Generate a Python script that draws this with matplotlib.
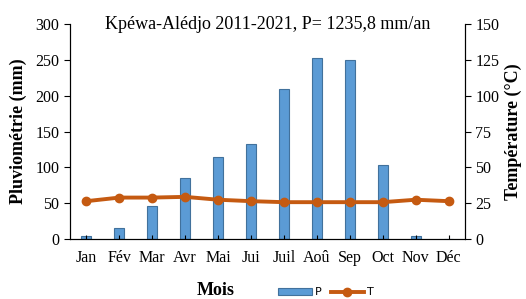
import numpy as np
import matplotlib
matplotlib.use('Agg')
from matplotlib import pyplot as plt

plt.rcParams['font.family'] = ['Liberation Serif', 'DejaVu Serif']

mois = ['Jan', 'Fév', 'Mar', 'Avr', 'Mai', 'Jui', 'Juil', 'Aoû', 'Sep', 'Oct', 'Nov', 'Déc']
pluie = [5, 16, 46, 85, 114, 132, 210, 253, 250, 104, 5, 0]
temp = [26.5, 29, 29, 29.5, 27.5, 26.5, 25.8, 25.8, 25.8, 25.8, 27.5, 26.5]

fig = plt.figure(figsize=(5.26, 2.99), dpi=100)
ax = fig.add_axes([0.133, 0.2, 0.751, 0.72])
x = np.arange(len(mois))
ax.bar(x, pluie, width=0.3, color='#5B9BD5', edgecolor='#41719C', linewidth=0.8, label='P')
ax.set_xlim(-0.5, 11.5)
ax.set_ylim(0, 300)
ax.set_yticks([0, 50, 100, 150, 200, 250, 300])
ax.set_xticks(x)
ax.set_xticklabels(mois)
ax.tick_params(axis='x', direction='in', length=3, labelsize=11.5, pad=8)
ax.tick_params(axis='y', direction='out', length=4, labelsize=11.5)
ax.spines['top'].set_visible(False)
ax.set_ylabel('Pluviométrie (mm)', fontsize=13, fontweight='bold', labelpad=6)
ax.set_xlabel('Mois', fontsize=13, fontweight='bold', labelpad=2)
ax.xaxis.set_label_coords(0.37, -0.2)

ax2 = ax.twinx()
ax2.plot(x, temp, color='#C55A11', linewidth=2.8, marker='o', markersize=6, label='T')
ax2.set_ylim(0, 150)
ax2.set_yticks([0, 25, 50, 75, 100, 125, 150])
ax2.tick_params(axis='y', direction='out', length=4, labelsize=11.5)
ax2.spines['top'].set_visible(False)
ax2.set_ylabel('Température (°C)', fontsize=13, fontweight='bold')

ax.text(0.5, 1.035, 'Kpéwa-Alédjo 2011-2021, P= 1235,8 mm/an', transform=ax.transAxes,
        ha='center', va='top', fontsize=13)

h1, l1 = ax.get_legend_handles_labels()
h2, l2 = ax2.get_legend_handles_labels()
fig.legend(h1 + h2, l1 + l2, loc='center', bbox_to_anchor=(0.62, 0.022), ncol=2,
           frameon=False, prop={'family': 'DejaVu Sans', 'size': 8},
           handlelength=3, columnspacing=0.8, handletextpad=0.3)

plt.savefig('out.png', dpi=100)
